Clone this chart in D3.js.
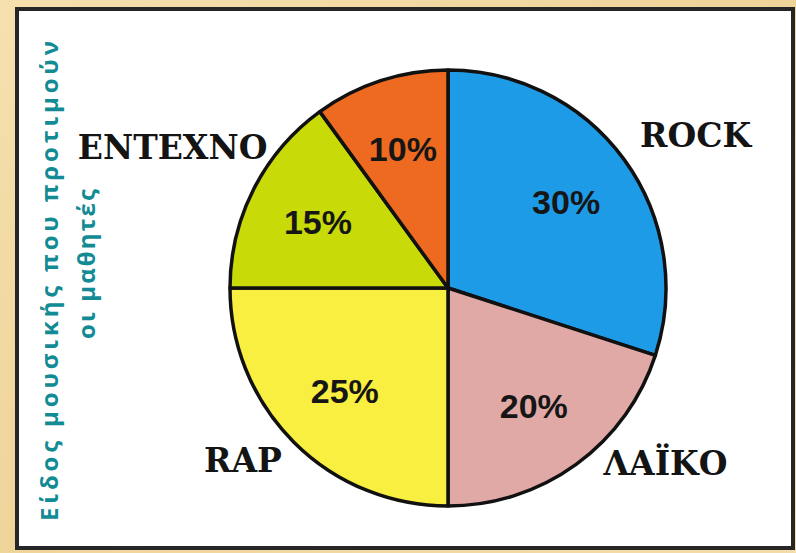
<!DOCTYPE html>
<html>
<head>
<meta charset="utf-8">
<script src="https://cdn.jsdelivr.net/npm/d3@7"></script>
<style>
  body { margin: 0; background: #f2d9a2; overflow: hidden; }
</style>
</head>
<body>
<div id="chart"></div>
<script>
// chart data
const genres = ['ROCK', 'ΛΑΪΚΟ', 'RAP', 'ΕΝΤΕΧΝΟ', ''];
const shares = [30, 20, 25, 15, 10];
const titleLines = ['Είδος μουσικής που προτιμούν', 'οι μαθητές'];

// slice colours, same order as genres
const sliceColors = ['#1d9be6', '#e1a9a6', '#f8ef40', '#c8da08', '#ee6a20'];
// the outer names were placed by hand in the original, so nudge them
const nameShift = [[13, 18], [47, -60], [0, -33], [-17, -9], [0, 0]];

const width = 796,
    height = 553,
    cx = 448,
    cy = 288,
    radius = 218;

const svg = d3.select('#chart').append('svg')
  .attr('width', width)
  .attr('height', height);

// wood-ish frame behind the white panel
const grad = svg.append('defs').append('linearGradient')
  .attr('id', 'wood')
  .attr('x1', 0).attr('y1', 0).attr('x2', 1).attr('y2', 1);
grad.append('stop').attr('offset', '0%').attr('stop-color', '#f6e0ae');
grad.append('stop').attr('offset', '50%').attr('stop-color', '#efd49a');
grad.append('stop').attr('offset', '100%').attr('stop-color', '#f4dcaa');

svg.append('rect')
  .attr('width', width)
  .attr('height', height)
  .attr('fill', 'url(#wood)');

// white panel with dark border
svg.append('rect')
  .attr('x', 17)
  .attr('y', 9)
  .attr('width', 776)
  .attr('height', 539)
  .attr('fill', '#fff')
  .attr('stroke', '#262626')
  .attr('stroke-width', 4);

const data = genres.map((g, i) => ({ name: g, value: shares[i] }));

const pie = d3.pie()
  .sort(null)
  .value(d => d.value);

const arcs = pie(data);

const arcGenerator = d3.arc()
  .innerRadius(0)
  .outerRadius(radius);

const pctArc = d3.arc()
  .innerRadius(146)
  .outerRadius(146);

const nameArc = d3.arc()
  .innerRadius(290)
  .outerRadius(290);

const g = svg.append('g')
  .attr('transform', `translate(${cx}, ${cy})`);

// slices
g.append('g')
  .selectAll('path')
  .data(arcs)
  .enter()
  .append('path')
  .attr('d', arcGenerator)
  .attr('fill', (d, i) => sliceColors[i])
  .attr('stroke', '#111')
  .attr('stroke-width', 3.5)
  .attr('stroke-linejoin', 'round');

// percentages inside the slices
g.append('g')
  .selectAll('text')
  .data(arcs)
  .enter()
  .append('text')
  .attr('transform', d => `translate(${pctArc.centroid(d)})`)
  .attr('text-anchor', 'middle')
  .attr('dy', '0.36em')
  .style('font-family', "'Liberation Sans', Arial, sans-serif")
  .style('font-weight', 'bold')
  .style('font-size', '34px')
  .style('fill', '#161616')
  .text(d => d.data.value + '%');

// genre names outside
g.append('g')
  .selectAll('text')
  .data(arcs.filter(d => d.data.name !== ''))
  .enter()
  .append('text')
  .attr('transform', d => {
    const [x, y] = nameArc.centroid(d);
    const s = nameShift[d.index];
    return `translate(${x + s[0]}, ${y + s[1]})`;
  })
  .attr('text-anchor', 'middle')
  .attr('dy', '0.36em')
  .style('font-family', "'DejaVu Serif', serif")
  .style('font-weight', 'bold')
  .style('font-size', '33px')
  .style('fill', '#141414')
  .text(d => d.data.name);

// vertical title on the left
const titlePos = [{ x: 58, y: 281, len: 480 }, { x: 95, y: 264, len: 150 }];

svg.append('g')
  .selectAll('text')
  .data(titleLines)
  .enter()
  .append('text')
  .attr('transform', (d, i) => `translate(${titlePos[i].x}, ${titlePos[i].y}) rotate(-90)`)
  .attr('text-anchor', 'middle')
  .attr('textLength', (d, i) => titlePos[i].len)
  .attr('lengthAdjust', 'spacing')
  .style('font-family', "'Open Sans', sans-serif")
  .style('font-weight', 'bold')
  .style('font-size', '24px')
  .style('fill', '#138b95')
  .text(d => d);
</script>
</body>
</html>
